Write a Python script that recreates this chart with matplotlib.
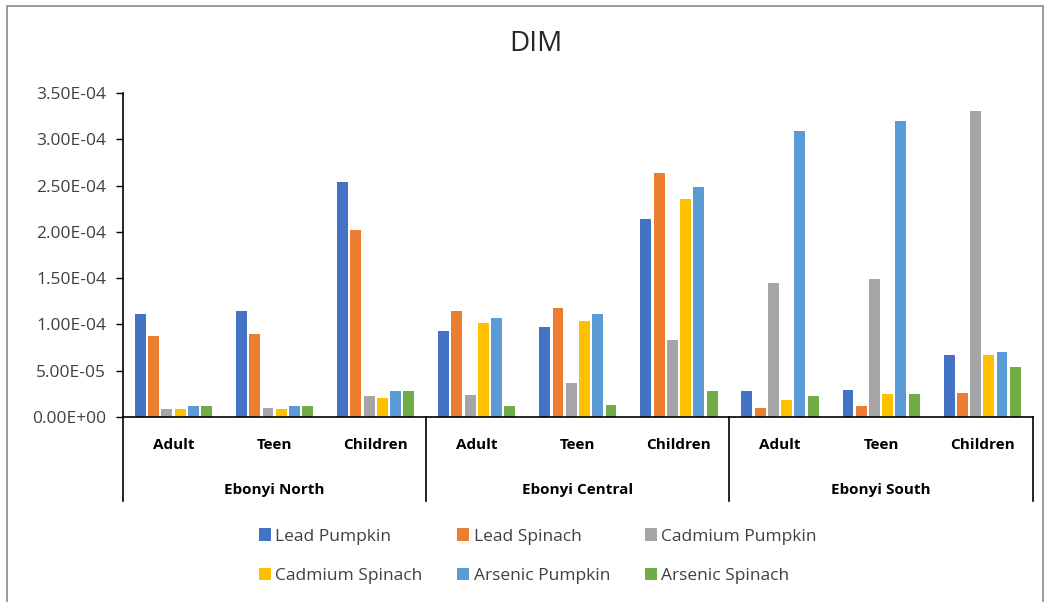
import numpy as np
import matplotlib
matplotlib.use("Agg")
import matplotlib.pyplot as plt
from matplotlib.patches import Rectangle
from matplotlib.ticker import FuncFormatter

plt.rcParams['font.family'] = ['Open Sans', 'DejaVu Sans']

regions = ["Ebonyi North", "Ebonyi Central", "Ebonyi South"]
ages = ["Adult", "Teen", "Children"]
series = ["Lead Pumpkin", "Lead Spinach", "Cadmium Pumpkin",
          "Cadmium Spinach", "Arsenic Pumpkin", "Arsenic Spinach"]
colors = ["#4472C4", "#ED7D31", "#A5A5A5", "#FFC000", "#5B9BD5", "#70AD47"]

# values per category: North Adult, Teen, Children, Central ..., South ...
lead_pumpkin = [1.11e-4, 1.14e-4, 2.54e-4, 0.93e-4, 0.975e-4, 2.135e-4, 2.8e-5, 2.95e-5, 6.65e-5]
lead_spinach = [0.875e-4, 0.90e-4, 2.02e-4, 1.14e-4, 1.18e-4, 2.64e-4, 1.0e-5, 1.15e-5, 2.55e-5]
cadmium_pumpkin = [9e-6, 1.0e-5, 2.3e-5, 2.4e-5, 3.7e-5, 0.83e-4, 1.45e-4, 1.49e-4, 3.31e-4]
cadmium_spinach = [9e-6, 9e-6, 2.0e-5, 1.015e-4, 1.04e-4, 2.36e-4, 1.85e-5, 2.45e-5, 6.65e-5]
arsenic_pumpkin = [1.15e-5, 1.15e-5, 2.8e-5, 1.07e-4, 1.11e-4, 2.49e-4, 3.09e-4, 3.2e-4, 7.05e-5]
arsenic_spinach = [1.15e-5, 1.15e-5, 2.8e-5, 1.15e-5, 1.3e-5, 2.8e-5, 2.25e-5, 2.45e-5, 5.4e-5]
data = [lead_pumpkin, lead_spinach, cadmium_pumpkin,
        cadmium_spinach, arsenic_pumpkin, arsenic_spinach]

fig = plt.figure(figsize=(10.48, 6.02), dpi=100)
fig.patches.append(Rectangle((0.007, -0.01), 0.988, 1.0, transform=fig.transFigure,
                             fill=False, edgecolor="#8c8c8c", linewidth=1.2))
ax = fig.add_axes([0.1174, 0.3073, 0.868, 0.5382])

n_cat = len(regions) * len(ages)
x = np.arange(n_cat)
bw = 0.108
pitch = 0.131
bars = []
for i, (vals, c) in enumerate(zip(data, colors)):
    off = (i - 2.5) * pitch
    b = ax.bar(x + off, vals, width=bw, color=c, label=series[i])
    bars.append(b)

ax.set_xlim(-0.5, n_cat - 0.5)
ax.set_ylim(0, 3.5e-4)
ax.set_yticks(np.arange(0, 3.51e-4, 0.5e-4))
ax.yaxis.set_major_formatter(FuncFormatter(lambda v, p: f"{v:.2E}"))
ax.tick_params(axis='y', labelsize=12.5, length=5, width=1, color='black',
               labelcolor='#404040', pad=7)
ax.set_xticks([])
for s in ["top", "right"]:
    ax.spines[s].set_visible(False)
ax.spines["left"].set_linewidth(1.2)
ax.spines["bottom"].set_linewidth(1.2)

fig.text(0.511, 0.927, "DIM", fontsize=20, ha='center', va='center', color='#262626')

# multi-level category axis
trans = ax.get_xaxis_transform()
for i, lab in enumerate(ages * len(regions)):
    ax.text(i, -0.085, lab, transform=trans, ha='center', va='center',
            fontsize=11, fontweight='bold')
for j, reg in enumerate(regions):
    ax.text(j * 3 + 1, -0.225, reg, transform=trans, ha='center', va='center',
            fontsize=11, fontweight='bold')
for k in range(len(regions) + 1):
    ax.plot([k * 3 - 0.5, k * 3 - 0.5], [0, -0.26], transform=trans,
            color='black', linewidth=1.2, clip_on=False)

# legend row-wise order
order = [0, 3, 1, 4, 2, 5]
handles = [bars[i] for i in order]
labels = [series[i] for i in order]
fig.legend(handles, labels, loc='center', bbox_to_anchor=(0.513, 0.076), ncol=3,
           frameon=False, fontsize=12.5, handlelength=0.7, handleheight=0.7,
           handletextpad=0.25, columnspacing=2.0, labelspacing=1.35,
           labelcolor='#404040')

fig.savefig("out.png", dpi=100)
